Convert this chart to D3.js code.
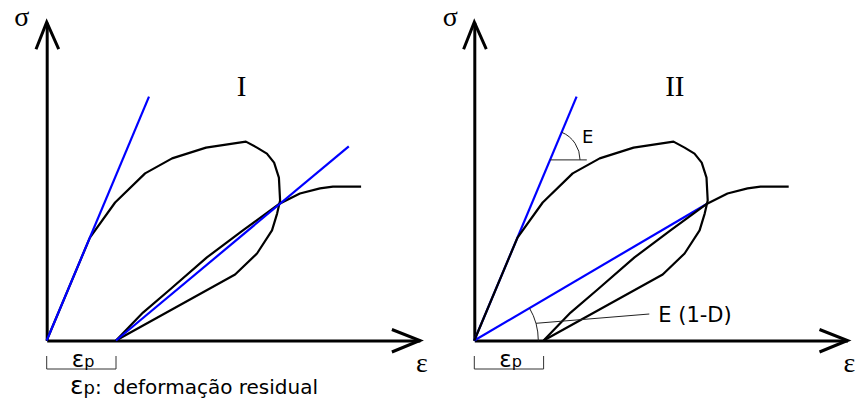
<!DOCTYPE html>
<html>
<head>
<meta charset="utf-8">
<script src="https://cdn.jsdelivr.net/npm/d3@7"></script>
<style>
  body { margin: 0; background: #fff; }
  svg { display: block; }
</style>
</head>
<body>
<svg id="chart" width="855" height="405"></svg>
<script>
// Stress–strain paths in (strain, stress) units.
// Loading beyond the peak and unloading down to the residual strain.
const loadingLoop = [
  [0, 0], [14.4, 34.3], [22.8, 46], [32.8, 55.7], [41.8, 60.7], [53.1, 64.3],
  [66.4, 66.3], [70.1, 64.3], [73.4, 62.3], [75.8, 59.3], [77.4, 54.3],
  [77.8, 46.7], [76.8, 42.3], [75.1, 36.7], [70.1, 29], [62.8, 22], [23.1, 0]
];
// Reloading from the residual strain, rejoining the envelope.
const reloadPath = [
  [23.1, 0], [32.1, 9.3], [41.1, 17], [53.4, 27.7], [65.4, 36.7], [77.6, 45.6],
  [84.4, 49], [91.1, 50.7], [95.4, 51.3], [104.8, 51.3]
];
// Moduli drawn in blue
const initialModulus = [[0, 0], [34.1, 81.3]];
const unloadModulusI = [[23.1, 0], [100.7, 64.7]];
const damagedModulusII = [[0, 0], [77.6, 45.6]];
const residualStrain = 23.1;
const strainMax = 124.4;
const stressMax = 106.1;
const panelNames = ["I", "II"];
const modulusLabels = ["E", "E (1-D)"];
const captionLabel = "deformação residual";

const unit = 3;          // pixels per unit
const originY = 340.5;
const blue = "#0000ff";
const serif = "'Liberation Serif', 'DejaVu Serif', serif";
const sans = "'DejaVu Sans', Verdana, sans-serif";

const svg = d3.select("#chart");

const panels = [
  { name: panelNames[0], x0: 46.7, nameDx: 195, sigmaDx: -25 },
  { name: panelNames[1], x0: 474.3, nameDx: 200.5, sigmaDx: -24 }
];

const line = d3.line().curve(d3.curveLinear);

panels.forEach((p, i) => {
  const x = d3.scaleLinear().domain([0, strainMax]).range([p.x0, p.x0 + unit * strainMax]);
  const y = d3.scaleLinear().domain([0, stressMax]).range([originY, originY - unit * stressMax]);
  line.x(d => x(d[0])).y(d => y(d[1]));

  const g = svg.append("g").attr("class", "panel-" + p.name);

  // axes (domain lines only)
  const xAxis = g.append("g").attr("transform", `translate(0,${originY})`)
    .call(d3.axisBottom(x).ticks(0).tickSizeOuter(0));
  const yAxis = g.append("g").attr("transform", `translate(${p.x0},0)`)
    .call(d3.axisLeft(y).ticks(0).tickSizeOuter(0));
  [xAxis, yAxis].forEach(a => a.select(".domain")
    .attr("stroke", "#000").attr("stroke-width", 3));

  // open arrowheads
  const xt = x(strainMax), yt = y(stressMax);
  g.append("path")
    .attr("d", `M${xt - 28},${originY - 11}L${xt},${originY}L${xt - 28},${originY + 11.5}`)
    .attr("fill", "none").attr("stroke", "#000").attr("stroke-width", 3)
    .attr("stroke-linejoin", "miter");
  g.append("path")
    .attr("d", `M${p.x0 - 10.7},${yt + 27}L${p.x0},${yt}L${p.x0 + 12},${yt + 27}`)
    .attr("fill", "none").attr("stroke", "#000").attr("stroke-width", 3)
    .attr("stroke-linejoin", "miter");

  // axis labels
  g.append("text").attr("x", p.x0 + p.sigmaDx).attr("y", 26)
    .attr("text-anchor", "middle").attr("font-family", serif).attr("font-size", 28)
    .text("σ");
  g.append("text").attr("x", xt + 2).attr("y", 372)
    .attr("text-anchor", "middle").attr("font-family", serif).attr("font-size", 28)
    .text("ε");

  // panel name
  g.append("text").attr("x", p.x0 + p.nameDx).attr("y", 96)
    .attr("text-anchor", "middle").attr("font-family", serif).attr("font-size", 29)
    .text(p.name);

  const blackPaths = [loadingLoop, reloadPath];
  const bluePaths = i === 0 ? [initialModulus, unloadModulusI] : [initialModulus, damagedModulusII];

  const drawBlack = () => blackPaths.forEach(d => g.append("path").attr("d", line(d))
    .attr("fill", "none").attr("stroke", "#000").attr("stroke-width", 2.2)
    .attr("stroke-linejoin", "round"));
  const drawBlue = () => bluePaths.forEach(d => g.append("path").attr("d", line(d))
    .attr("fill", "none").attr("stroke", blue).attr("stroke-width", 2.2));

  if (i === 0) { drawBlack(); drawBlue(); } else { drawBlue(); drawBlack(); }

  // residual strain bracket
  const bx0 = x(0), bx1 = x(residualStrain);
  g.append("path")
    .attr("d", `M${bx0},356V369H${bx1}V356`)
    .attr("fill", "none").attr("stroke", "#333").attr("stroke-width", 1);
  const lab = g.append("text").attr("x", bx0 + 25).attr("y", 367)
    .attr("font-family", sans).attr("fill", "#000");
  lab.append("tspan").attr("font-size", 23).text("ε");
  lab.append("tspan").attr("font-size", 16).text("p");

  if (i === 1) {
    // angle mark for E on the initial modulus
    const slope = initialModulus[1][1] / initialModulus[1][0];
    const yE = 60.2, xE = yE / slope;
    const cx = x(xE), cy = y(yE);
    const thetaE = Math.atan2(y(0) - y(initialModulus[1][1]), x(initialModulus[1][0]) - x(0));
    const r1 = 30;
    g.append("path").attr("d", `M${cx},${cy}H${x(37.5)}`)
      .attr("stroke", "#222").attr("stroke-width", 1).attr("fill", "none");
    const a1 = d3.path();
    a1.moveTo(cx + r1 * Math.cos(-thetaE), cy + r1 * Math.sin(-thetaE));
    a1.arc(cx, cy, r1, -thetaE, 0, false);
    g.append("path").attr("d", a1.toString())
      .attr("stroke", "#222").attr("stroke-width", 1).attr("fill", "none");
    g.append("text").attr("x", cx + 32).attr("y", 143)
      .attr("font-family", sans).attr("font-size", 18).text(modulusLabels[0]);

    // angle mark for E(1-D) on the damaged modulus
    const ox = x(0), oy = y(0);
    const thetaD = Math.atan2(y(0) - y(damagedModulusII[1][1]), x(damagedModulusII[1][0]) - x(0));
    const r2 = 64;
    const a2 = d3.path();
    a2.moveTo(ox + r2 * Math.cos(-thetaD), oy + r2 * Math.sin(-thetaD));
    a2.arc(ox, oy, r2, -thetaD, 0, false);
    g.append("path").attr("d", a2.toString())
      .attr("stroke", "#222").attr("stroke-width", 1).attr("fill", "none");
    const leadY = 323.3, leadX = ox + Math.sqrt(r2 * r2 - (oy - leadY) * (oy - leadY));
    g.append("path").attr("d", `M${leadX},${leadY}L${ox + 175},314`)
      .attr("stroke", "#222").attr("stroke-width", 1).attr("fill", "none");
    g.append("text").attr("x", ox + 184).attr("y", 322)
      .attr("font-family", sans).attr("font-size", 21).text(modulusLabels[1]);
  }
});

// caption
const cap = svg.append("text").attr("x", 70).attr("y", 394)
  .attr("font-family", sans).attr("fill", "#000");
cap.append("tspan").attr("font-size", 25).text("ε");
cap.append("tspan").attr("font-size", 18).text("p");
cap.append("tspan").attr("font-size", 20).text(":");
cap.append("tspan").attr("font-size", 20).attr("x", 113).text(captionLabel);
</script>
</body>
</html>
